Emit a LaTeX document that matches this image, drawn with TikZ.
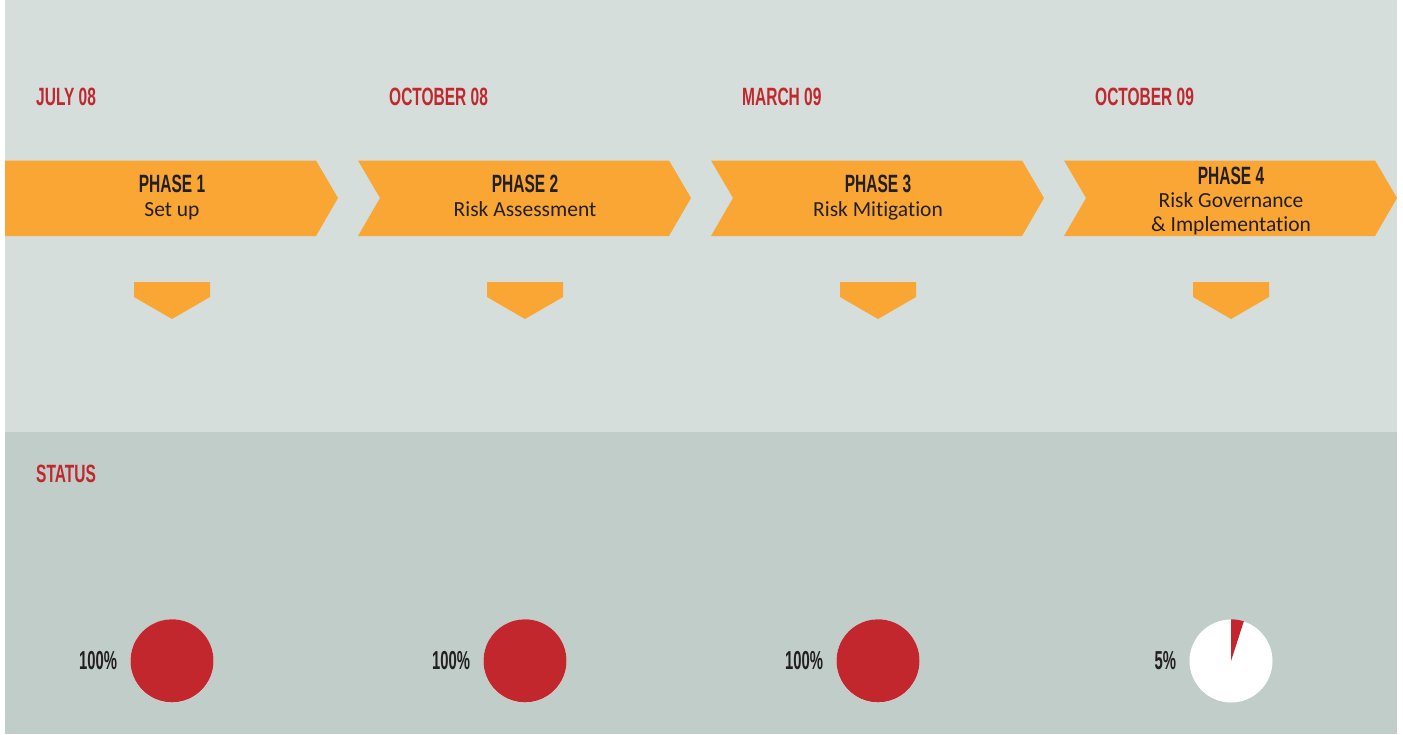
\documentclass[tikz,border=0pt]{standalone}
\usepackage{fontspec}
\setmainfont{Carlito}[Ligatures=NoCommon]
\newfontfamily\dinfont[FakeStretch=0.62]{Liberation Sans}
\newfontfamily\dinnarrow[FakeStretch=0.57]{Liberation Sans}
\usetikzlibrary{positioning}
\definecolor{topbg}{HTML}{D5DEDA}
\definecolor{lowbg}{HTML}{C0CDC8}
\definecolor{phaseorange}{HTML}{F9A634}
\definecolor{riskred}{HTML}{C1272D}
\definecolor{inkdark}{HTML}{231F20}

\tikzset{
  datelabel/.style={anchor=west, inner sep=0pt, text=riskred,
    font=\dinfont\bfseries\fontsize{25}{28}\selectfont},
  phaselabel/.style={align=center, inner sep=0pt, text=inkdark,
    font=\fontsize{21.5}{23.5}\selectfont},
  pctlabel/.style={inner sep=0pt, text=inkdark,
    font=\dinnarrow\bfseries\fontsize{26}{28}\selectfont},
  piedisc/.style={circle, fill=white, minimum size=83pt, inner sep=0pt}
}

\begin{document}
\begin{tikzpicture}[x=1pt, y=1pt]

  \useasboundingbox (0,0) rectangle (1403,-734);
  \fill[white] (0,0) rectangle (1403,-734);

  % panels
  \fill[topbg] (5,0) rectangle (1397,-432);
  \fill[lowbg] (5,-432) rectangle (1397,-734);

  \node[datelabel] (status) at (36,-474) {STATUS};

  \foreach \i/\mydate/\mytitle/\pct in {
      1/JULY 08/Set up/100,
      2/OCTOBER 08/Risk Assessment/100,
      3/MARCH 09/Risk Mitigation/100,
      4/OCTOBER 09/{Risk Governance\\\& Implementation}/5} {

    \pgfmathsetmacro{\lx}{5+353*(\i-1)}
    \pgfmathsetmacro{\cx}{172+353*(\i-1)}
    \pgfmathsetmacro{\notch}{\i==1 ? 0 : 22}
    \pgfmathsetmacro{\ty}{\i==4 ? -200.5 : -197.5}

    % phase arrow
    \fill[phaseorange]
      (\lx,-160.5) -- (\lx+311,-160.5) -- (\lx+333,-198) -- (\lx+311,-236)
      -- (\lx,-236) -- (\lx+\notch,-198) -- cycle;

    % small chevron
    \fill[phaseorange]
      (\cx-38,-282) -- (\cx+38,-282) -- (\cx+38,-297) -- (\cx,-319)
      -- (\cx-38,-297) -- cycle;

    \node[datelabel] (date\i) at (\lx+31,-97) {\mydate};
    \node[phaselabel] (phase\i) at (\cx,\ty)
      {{\dinfont\bfseries\fontsize{25}{23.5}\selectfont PHASE \i}\\\mytitle\vphantom{p}};

    % status pie
    \node[piedisc] (pie\i) at (\cx,-661) {};
    \fill[riskred] (pie\i.center) -- (pie\i.north)
      arc[start angle=90, end angle={90-3.6*\pct}, radius=41.5pt] -- cycle;
    \node[pctlabel, left=13pt of pie\i] (pct\i) {\pct\%};
  }

\end{tikzpicture}
\end{document}
